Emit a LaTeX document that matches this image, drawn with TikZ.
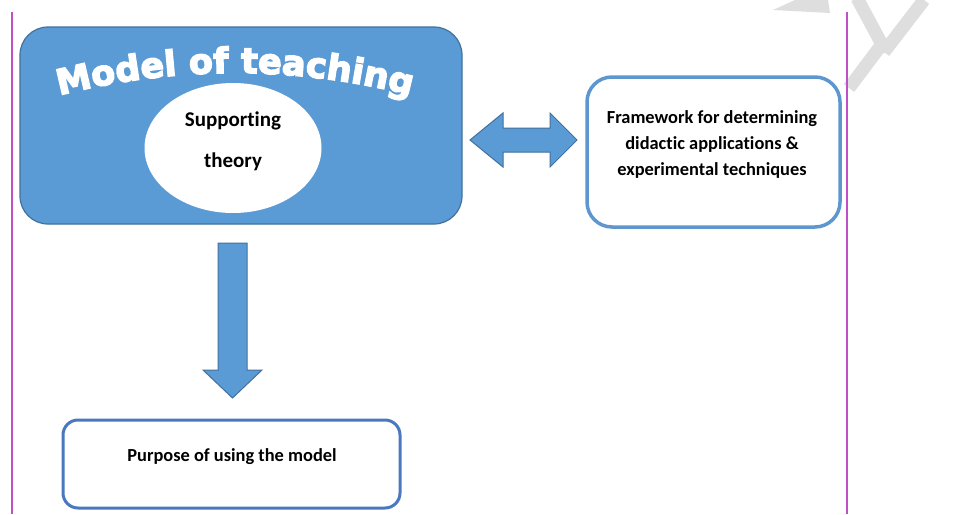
\documentclass[tikz,border=0pt]{standalone}
\usepackage{fontspec}
\setmainfont{Carlito}[Ligatures=NoCommon]
\newfontfamily\titlefont{DejaVu Sans Bold}[FakeBold=4]
\usetikzlibrary{decorations.text,shapes.geometric}
\definecolor{boxblue}{HTML}{5B9BD5}
\definecolor{edgeblue}{HTML}{41719C}
\definecolor{frameblue}{HTML}{5E97CF}
\definecolor{purposeblue}{HTML}{4A78C0}
\definecolor{pageline}{HTML}{C050C8}
\definecolor{wmgray}{HTML}{DEDEDE}
\begin{document}
\begin{tikzpicture}[x=1pt,y=1pt,
  bodytext/.style={font=\bfseries\fontsize{18.4}{26}\selectfont, align=center, inner sep=0},
  blockarrow/.style={fill=boxblue, draw=edgeblue, line width=1},
  wm/.style={draw=wmgray, line width=13, line cap=butt}]
\useasboundingbox (0,0) rectangle (977,-514);
\fill[white] (0,0) rectangle (977,-514);
% watermark fragments
\fill[wmgray] (773,-10) -- (795,0) -- (828,0) -- (830,-13) -- cycle;
\draw[wm] (857,2) -- (886,-52);
\draw[wm] (884,-52) -- (924,0);
\draw[wm] (882,-44) -- (849,-88);
% page rules
\draw[pageline, line width=1.8] (12,-12) -- (12,-514);
\draw[pageline, line width=1.8] (847,-12) -- (847,-514);
% main box
\node[draw=edgeblue, fill=boxblue, line width=1.2, rounded corners=28,
      minimum width=442, minimum height=197, inner sep=0] (model) at (241,-125.5) {};
\path[decorate, decoration={text along path, text align=center, text color=white,
      text={|\titlefont\fontsize{35}{40}\selectfont|Model of teaching}}]
  (235,-772) ++(108:699) arc[start angle=108, end angle=72, radius=699];
\node[ellipse, fill=white, minimum width=177, minimum height=130, inner sep=0] (theory) at (233,-148) {};
\node[bodytext, font=\bfseries\fontsize{21}{24}\selectfont] (supp) at (233,-121) {Supporting};
\node[bodytext, font=\bfseries\fontsize{21}{24}\selectfont] (theo) at (233,-162) {theory};
% right box
\node[draw=frameblue, fill=white, line width=3.5, rounded corners=25,
      minimum width=253, minimum height=150, inner sep=0] (frame) at (713.5,-152) {};
\node[bodytext] (frametext) at (712,-144) {Framework for determining\\didactic applications \&\\experimental techniques};
% double arrow
\draw[blockarrow] (470,-140) -- (503,-113) -- (503,-128) -- (550,-128) -- (550,-113)
  -- (577,-140) -- (550,-167) -- (550,-152) -- (503,-152) -- (503,-167) -- cycle;
% down arrow
\draw[blockarrow] (218,-243) -- (247,-243) -- (247,-370) -- (262,-370) -- (232.5,-398)
  -- (203,-370) -- (218,-370) -- cycle;
% bottom box
\node[draw=purposeblue, fill=white, line width=3, rounded corners=15,
      minimum width=337, minimum height=88, inner sep=0] (purpose) at (231.5,-464) {};
\node[bodytext, font=\bfseries\fontsize{18.4}{22}\selectfont] (purposetext) at (232,-457) {Purpose of using the model};
\end{tikzpicture}
\end{document}
